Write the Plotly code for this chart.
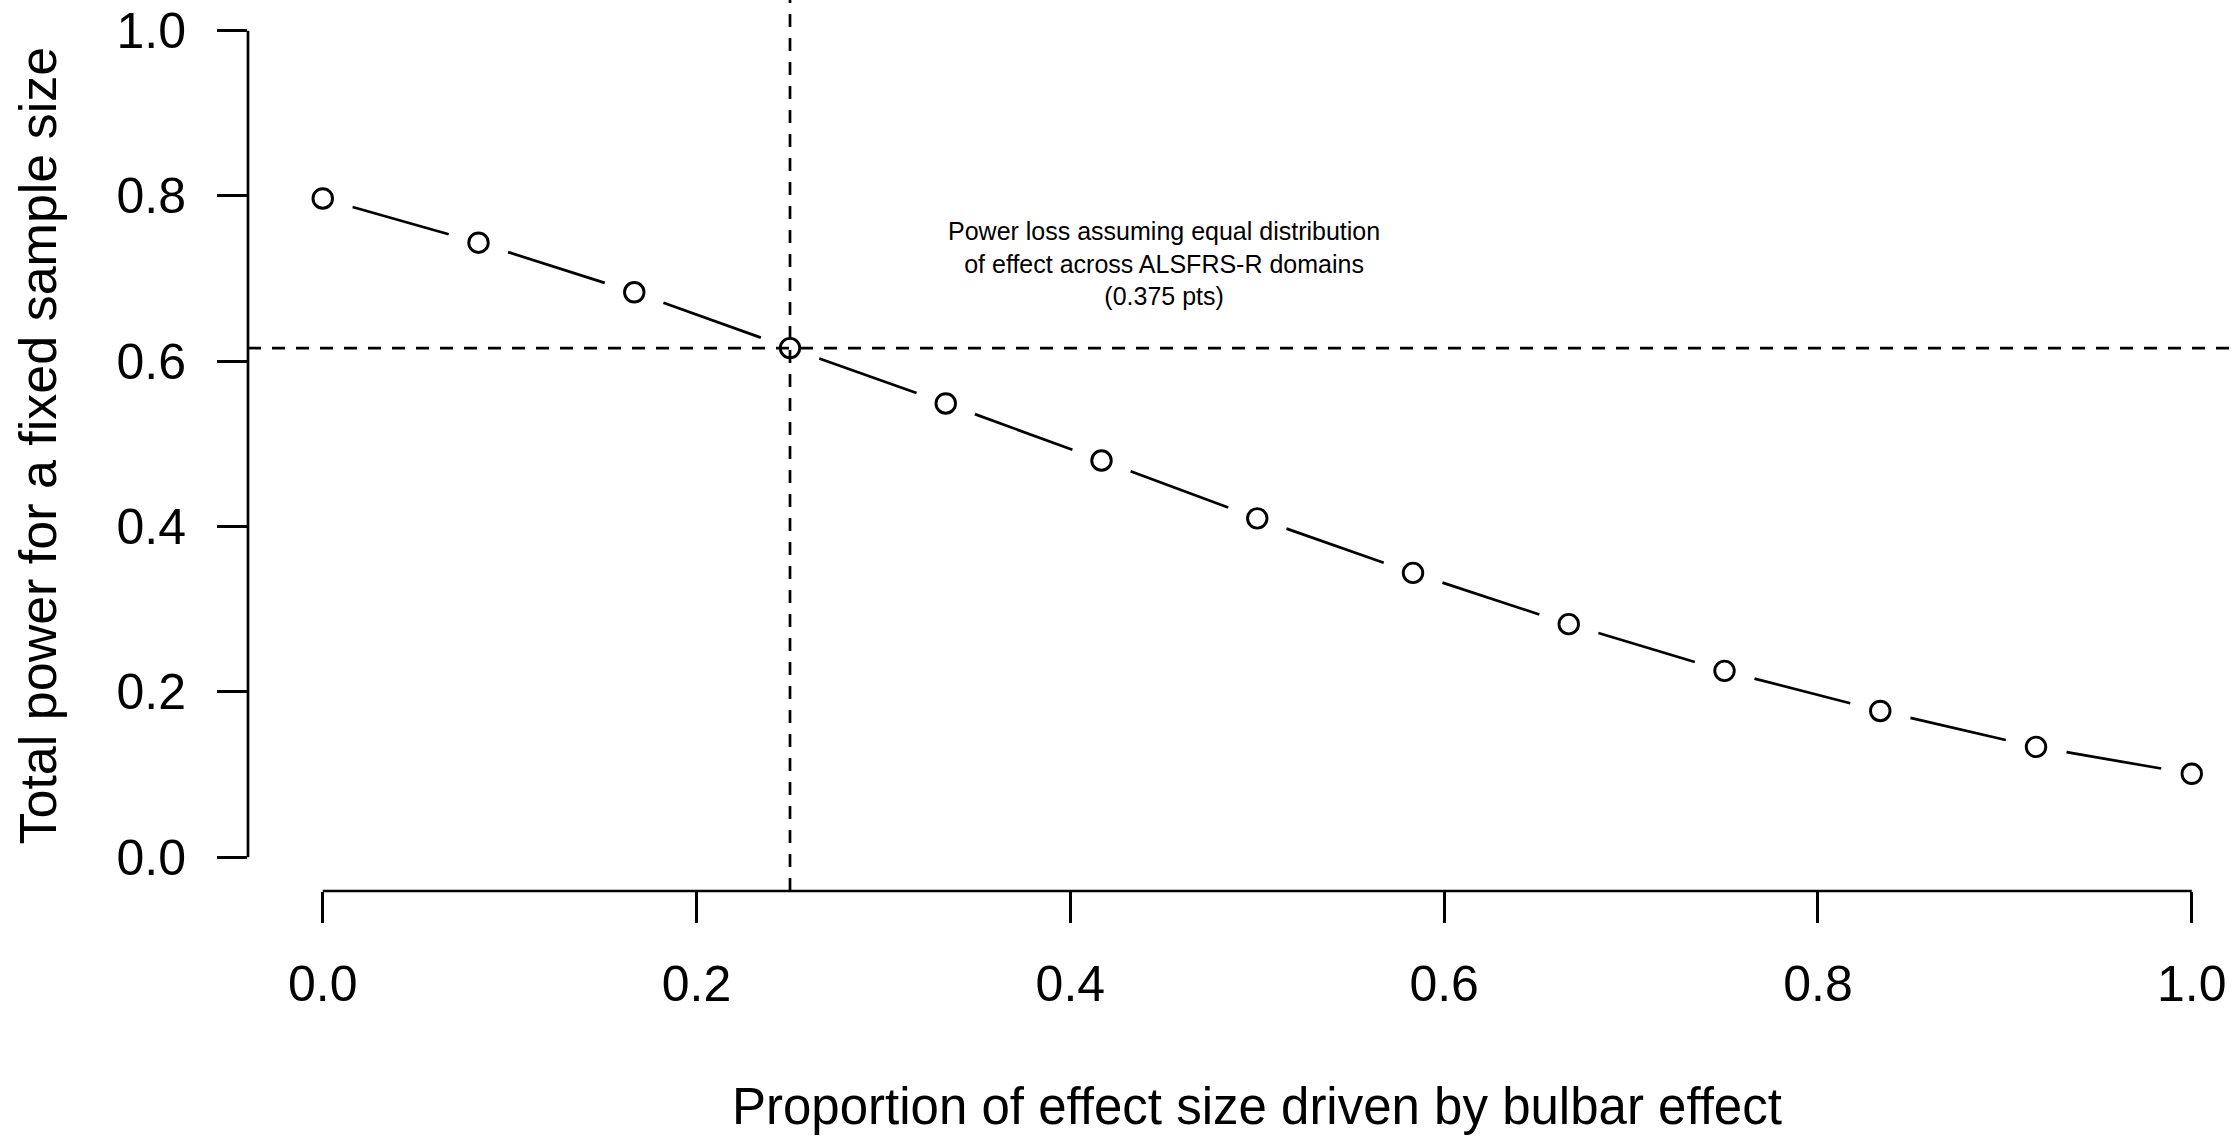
import math
import plotly.graph_objects as go

# ---- data ----
proportion = [0, 1/12, 2/12, 3/12, 4/12, 5/12, 6/12, 7/12, 8/12, 9/12, 10/12, 11/12, 1]
power = [0.797, 0.7435, 0.6835, 0.616, 0.549, 0.480, 0.410, 0.344, 0.282, 0.2255, 0.177, 0.1335, 0.101]
tick_vals = [0.0, 0.2, 0.4, 0.6, 0.8, 1.0]
tick_text = ["0.0", "0.2", "0.4", "0.6", "0.8", "1.0"]
ref_x = 0.25
ref_y = 0.616
note_text = "Power loss assuming equal distribution<br>of effect across ALSFRS-R domains<br>(0.375 pts)"
x_title = "Proportion of effect size driven by bulbar effect"
y_title = "Total power for a fixed sample size"

# ---- layout constants ----
W, H = 2234, 1136
ML, MR, MT, MB = 248, 0, 0, 245
XR = [-0.04, 1.0226]
YR = [-0.0408, 1.0371]
FONT = "Arial, 'Liberation Sans', Helvetica, sans-serif"
LW = 2.7

pw = W - ML - MR
ph = H - MT - MB
sx = pw / (XR[1] - XR[0])
sy = ph / (YR[1] - YR[0])

# type="b" style: line segments with gaps around each point
GAP = 31
seg_x, seg_y = [], []
for i in range(len(proportion) - 1):
    dx = proportion[i + 1] - proportion[i]
    dy = power[i + 1] - power[i]
    L = math.hypot(dx * sx, dy * sy)
    f = GAP / L
    seg_x += [proportion[i] + dx * f, proportion[i + 1] - dx * f, None]
    seg_y += [power[i] + dy * f, power[i + 1] - dy * f, None]

fig = go.Figure()
fig.add_trace(go.Scatter(x=seg_x, y=seg_y, mode="lines",
                         line=dict(color="black", width=LW), hoverinfo="skip",
                         showlegend=False))
fig.add_trace(go.Scatter(x=proportion, y=power, mode="markers",
                         marker=dict(symbol="circle-open", size=19.5, color="black",
                                     line=dict(width=2.9, color="black")),
                         showlegend=False, cliponaxis=False))

shapes = [
    # reference lines
    dict(type="line", xref="x", yref="paper", x0=ref_x, x1=ref_x, y0=0, y1=1,
         line=dict(color="black", width=LW, dash="13px,11px"), layer="above"),
    dict(type="line", xref="paper", yref="y", x0=0, x1=1, y0=ref_y, y1=ref_y,
         line=dict(color="black", width=LW, dash="13px,11px"), layer="above"),
    # R-style axis lines spanning the ticks only
    dict(type="line", xref="x", yref="paper", x0=tick_vals[0], x1=tick_vals[-1], y0=0, y1=0,
         line=dict(color="black", width=LW), layer="above"),
    dict(type="line", xref="paper", yref="y", x0=0, x1=0, y0=tick_vals[0], y1=tick_vals[-1],
         line=dict(color="black", width=LW), layer="above"),
]

annotations = [
    dict(text=note_text, x=0.45, y=0.718, xref="x", yref="y", showarrow=False,
         xanchor="center", yanchor="middle", align="center",
         font=dict(family=FONT, size=25, color="black")),
    dict(text=x_title, x=0.5, xref="x", y=(MT + ph - 1106) / ph, yref="paper",
         showarrow=False, xanchor="center", yanchor="middle",
         font=dict(family=FONT, size=51, color="black")),
    dict(text=y_title, textangle=-90, x=(37 - ML) / pw, xref="paper",
         y=(0.5 * (YR[0] + YR[1])), yref="y",
         showarrow=False, xanchor="center", yanchor="middle",
         font=dict(family=FONT, size=52, color="black")),
]

axis_common = dict(showgrid=False, zeroline=False, showline=False, ticks="outside",
                   automargin=False,
                   tickwidth=LW, tickcolor="black", tickvals=tick_vals, ticktext=tick_text,
                   tickfont=dict(family=FONT, size=50, color="black"))

fig.update_layout(
    template="none",
    width=W, height=H,
    margin=dict(l=ML, r=MR, t=MT, b=MB, pad=0, autoexpand=False),
    paper_bgcolor="white", plot_bgcolor="white",
    xaxis=dict(range=XR, ticklen=31, ticklabelstandoff=18, **axis_common),
    yaxis=dict(range=YR, ticklen=30, ticklabelstandoff=21, **axis_common),
    shapes=shapes, annotations=annotations,
    showlegend=False,
)

fig.write_html("out.html", config={"displayModeBar": False},
               post_script="document.body.style.margin='0px';document.body.style.padding='0px';")
